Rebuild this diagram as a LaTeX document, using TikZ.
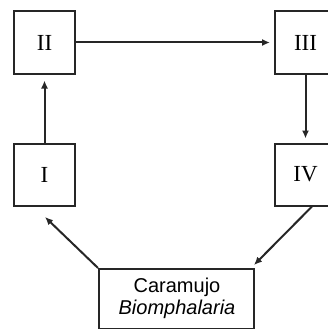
\documentclass[tikz,border=0pt]{standalone}
\usepackage{fontspec}
\newfontfamily\arialfont{Liberation Sans}
\newfontfamily\timesfont{Liberation Serif}
\usetikzlibrary{arrows.meta,calc}
\begin{document}
\begin{tikzpicture}[x=1pt,y=-1pt,
  stagebox/.style={draw=black!85,line width=2pt,minimum width=61pt,minimum height=62pt,inner sep=0pt,font=\timesfont\fontsize{23}{26}\selectfont},
  hostbox/.style={draw=black!85,line width=2pt,minimum width=155pt,minimum height=60pt,inner sep=0pt,anchor=north west},
  hosttext/.style={align=center,inner sep=0pt,anchor=north,font=\arialfont\fontsize{20}{22}\selectfont},
  arr/.style={draw=black!85,line width=2pt,-{Latex[length=8pt,width=7pt]}}]
\useasboundingbox (0,0) rectangle (328,329);
\clip (0,0) rectangle (328,329);
\node[stagebox] (II) at (44.5,42.5) {II};
\node[stagebox] (III) at (305.5,42.5) {III};
\node[stagebox] (I) at (44.5,174.5) {I};
\node[stagebox] (IV) at (305.5,174.5) {IV};
\node[hostbox] (C) at (98,268) {};
\node[hosttext] (Ct) at (177,277.4) {Caramujo\\\textit{Biomphalaria}};
\coordinate (Itip) at (45,217);
\coordinate (Ctip) at (254,265);
\draw[arr,shorten >=6pt] (I.north) -- (II.south);
\draw[arr,shorten >=4pt] (II.east) -- (III.west);
\draw[arr,shorten >=4pt] (III.south) -- (IV.north);
\draw[arr] (C.north west) -- (Itip);
\draw[arr] ($(IV.south)+(6.5,0)$) -- (Ctip);
\end{tikzpicture}
\end{document}
